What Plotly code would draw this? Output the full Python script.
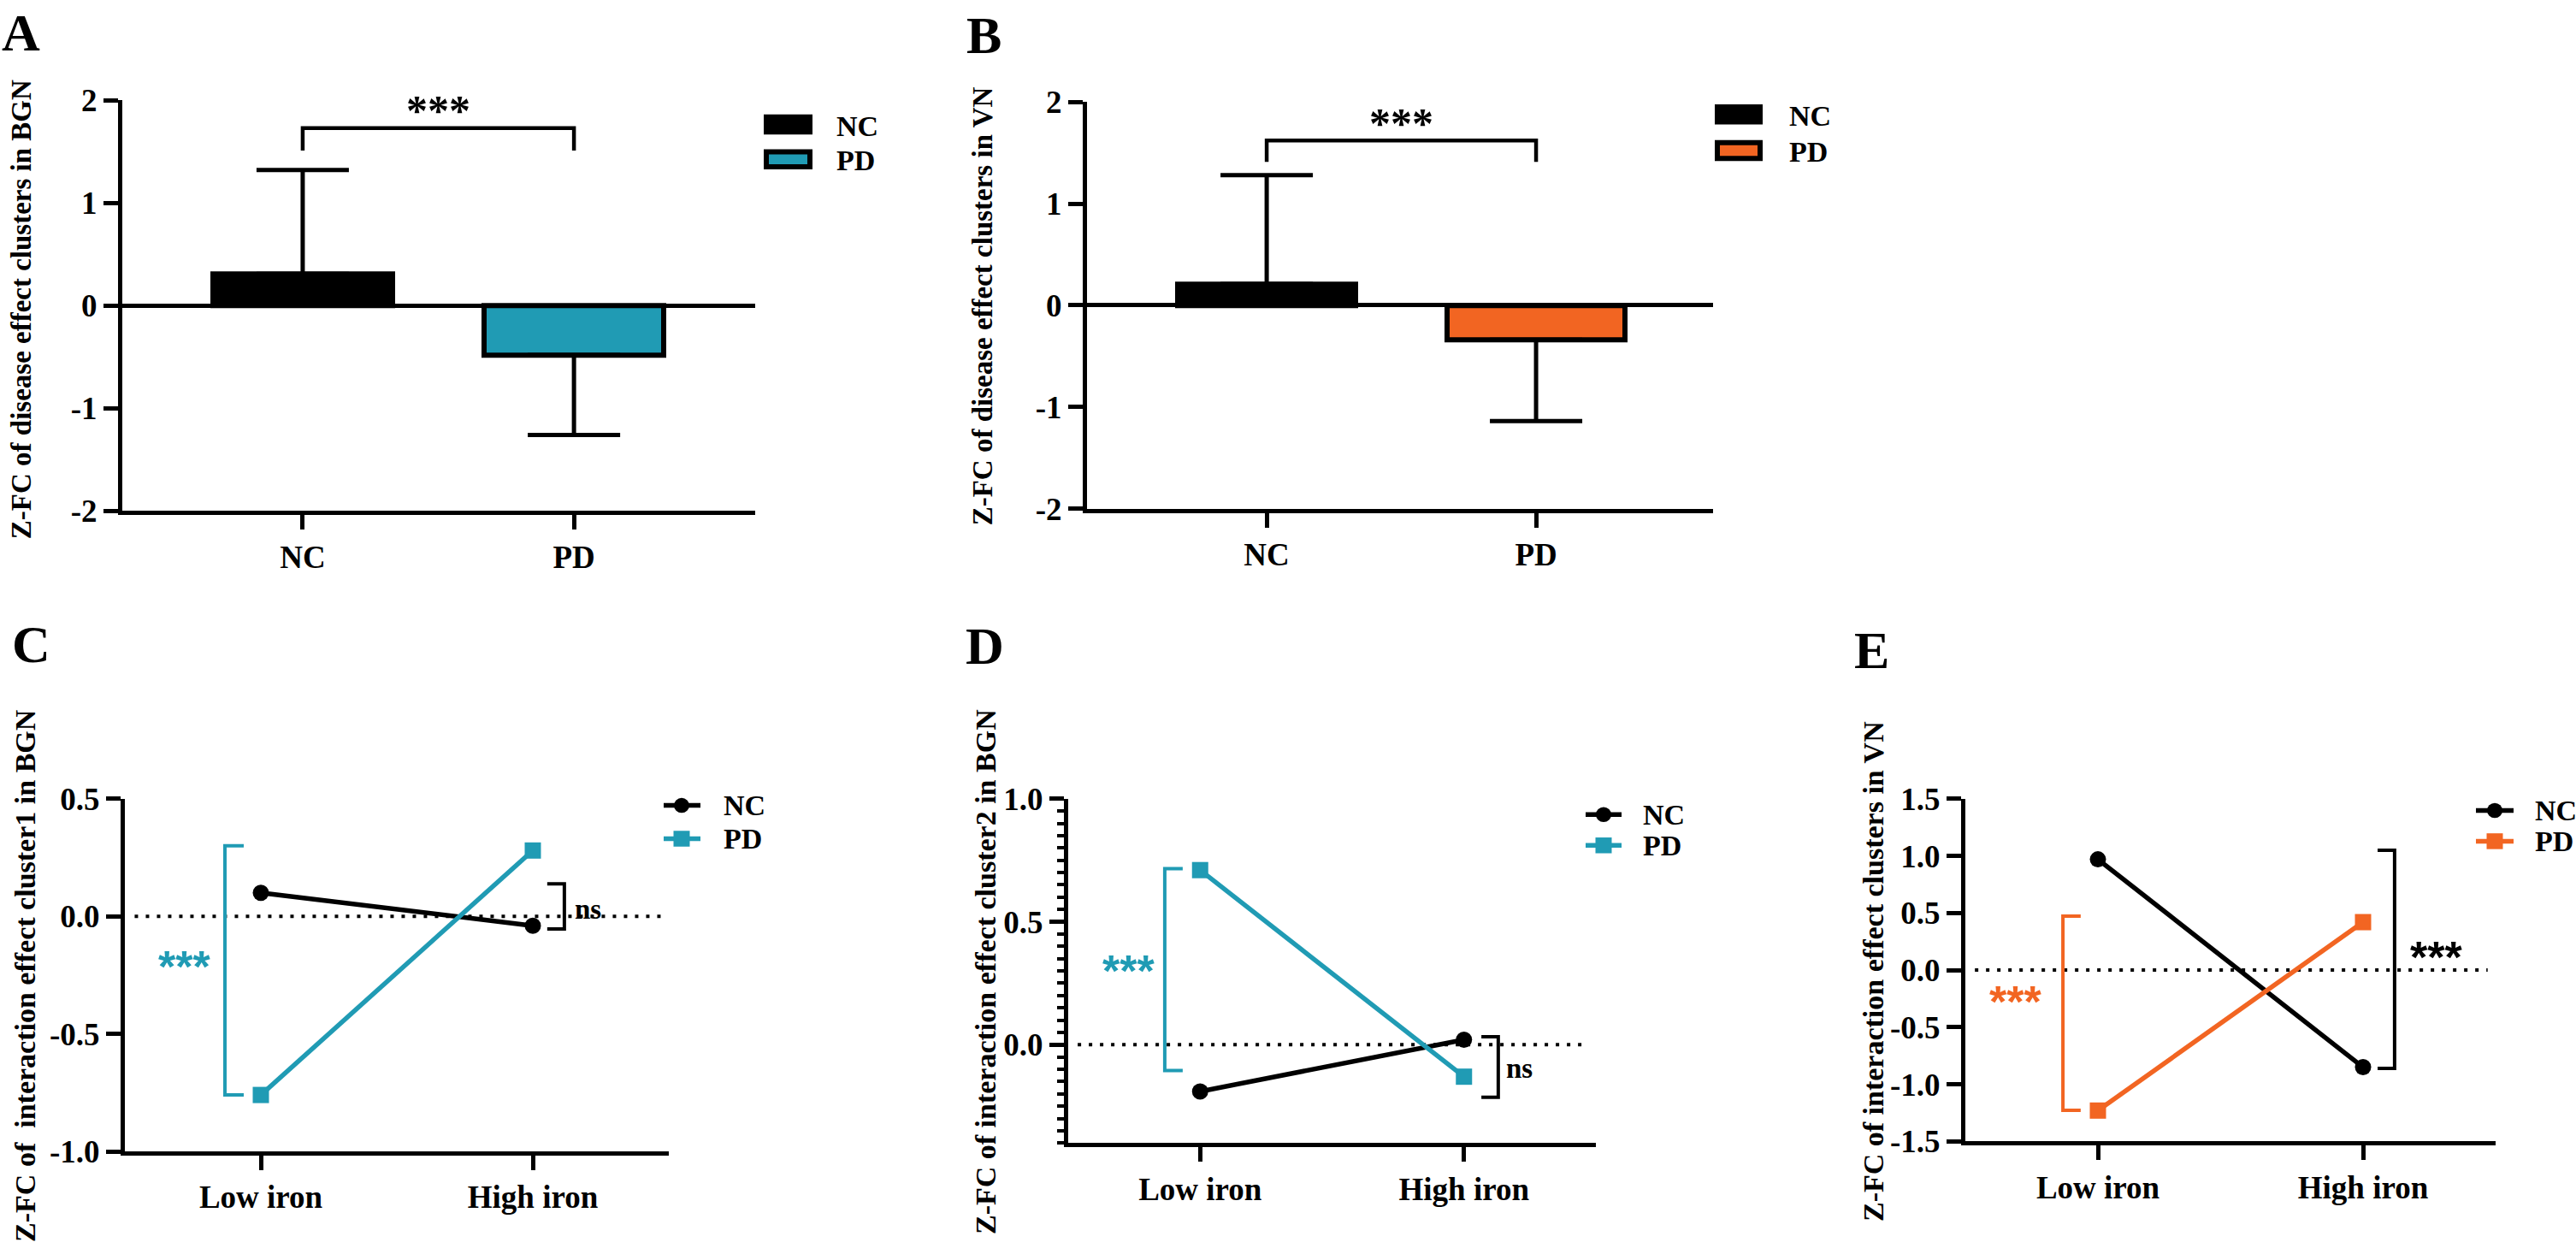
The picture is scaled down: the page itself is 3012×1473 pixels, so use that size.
import plotly.graph_objects as go

W, H = 3012, 1473
FONT = "Liberation Serif"
TEAL = "#209BB4"
ORANGE = "#F26522"
BLACK = "#000000"

# ---------------- data ----------------
groups = ["NC", "PD"]
a_mean = [0.31, -0.48]
a_err_up = [1.01, 0.0]
a_err_down = [0.0, 0.78]
b_mean = [0.21, -0.34]
b_err_up = [1.07, 0.0]
b_err_down = [0.0, 0.80]

iron = ["Low iron", "High iron"]
c_nc = [0.10, -0.04]
c_pd = [-0.76, 0.28]
d_nc = [-0.19, 0.02]
d_pd = [0.71, -0.13]
e_nc = [0.97, -0.85]
e_pd = [-1.23, 0.42]

bar_ticks = [-2, -1, 0, 1, 2]
bar_ticktext = ["-2", "-1", "0", "1", "2"]
c_ticks = [-1.0, -0.5, 0.0, 0.5]
c_ticktext = ["-1.0", "-0.5", "0.0", "0.5"]
d_ticks = [0.0, 0.5, 1.0]
d_ticktext = ["0.0", "0.5", "1.0"]
e_ticks = [-1.5, -1.0, -0.5, 0.0, 0.5, 1.0, 1.5]
e_ticktext = ["-1.5", "-1.0", "-0.5", "0.0", "0.5", "1.0", "1.5"]

# significance brackets: (leg bottom, top) for bar panels
sig_a = [1.51, 1.73]
sig_b = [1.41, 1.62]
# vertical brackets: [x_bar, x_arm, y_top, y_bottom]
c_br_pd = [-0.132, -0.063, 0.30, -0.76]
c_br_nc = [1.116, 1.053, 0.138, -0.054]
d_br_pd = [-0.134, -0.066, 0.716, -0.105]
d_br_nc = [1.130, 1.066, 0.032, -0.214]
e_br_pd = [-0.132, -0.065, 0.472, -1.227]
e_br_nc = [1.119, 1.055, 1.049, -0.86]


def fx(px):
    return px / W


def fy(py):
    return 1 - py / H


fig = go.Figure()

# ---------- bar panels ----------
for i, (mean, up, dn) in enumerate([(a_mean, a_err_up, a_err_down), (b_mean, b_err_up, b_err_down)]):
    ax = "" if i == 0 else "2"
    fig.add_trace(go.Bar(
        x=list(range(len(groups))), y=mean,
        width=0.66,
        marker=dict(color=[BLACK, TEAL if i == 0 else ORANGE], line=dict(color=BLACK, width=6)),
        error_y=dict(type="data", symmetric=False, array=up, arrayminus=dn,
                     color=BLACK, thickness=5, width=54),
        showlegend=False, xaxis="x" + ax, yaxis="y" + ax,
    ))

# ---------- line panels ----------
line_panels = [("3", c_nc, c_pd, TEAL),
               ("4", d_nc, d_pd, TEAL),
               ("5", e_nc, e_pd, ORANGE)]
for ax, nc, pd_, col in line_panels:
    fig.add_trace(go.Scatter(
        x=list(range(len(iron))), y=nc, mode="lines+markers", name="NC",
        line=dict(color=BLACK, width=5.5), marker=dict(symbol="circle", size=19, color=BLACK),
        xaxis="x" + ax, yaxis="y" + ax, showlegend=False, cliponaxis=False))
    fig.add_trace(go.Scatter(
        x=list(range(len(iron))), y=pd_, mode="lines+markers", name="PD",
        line=dict(color=col, width=5.5), marker=dict(symbol="square", size=19, color=col),
        xaxis="x" + ax, yaxis="y" + ax, showlegend=False, cliponaxis=False))

tickfont = dict(family=FONT, size=37, color=BLACK, weight="bold")


def xaxis(dom, rng, text):
    return dict(domain=[fx(dom[0]), fx(dom[1])], range=rng, tickmode="array",
                tickvals=list(range(len(text))), ticktext=text, showline=True,
                linewidth=5, linecolor=BLACK, ticks="outside", ticklen=17, tickwidth=5,
                tickcolor=BLACK, tickfont=tickfont, showgrid=False, zeroline=False,
                fixedrange=True)


def yaxis(dom, rng, tv, tt, anchor, zl=False, minor=None):
    d = dict(domain=[fy(dom[1]), fy(dom[0])], range=rng, tickmode="array",
             tickvals=tv, ticktext=tt, showline=True, linewidth=5, linecolor=BLACK,
             ticks="outside", ticklen=17, tickwidth=5, tickcolor=BLACK, tickfont=tickfont,
             showgrid=False, zeroline=zl, zerolinecolor=BLACK, zerolinewidth=5,
             anchor=anchor, fixedrange=True)
    if minor:
        d["minor"] = minor
    return d


layout = dict(
    width=W, height=H, margin=dict(l=0, r=0, t=0, b=0),
    paper_bgcolor="white", plot_bgcolor="white", showlegend=False,
    font=dict(family=FONT, color=BLACK, weight="bold"),
    xaxis=xaxis([143, 883], [-0.665, 1.668], groups),
    yaxis=yaxis([100, 594], [-2, 2], bar_ticks, bar_ticktext, "x", zl=True),
    xaxis2=xaxis([1271, 2003], [-0.667, 1.657], groups),
    yaxis2=yaxis([102, 591], [-2, 2], bar_ticks, bar_ticktext, "x2", zl=True),
    xaxis3=xaxis([146, 782], [-0.5, 1.5], iron),
    yaxis3=yaxis([940, 1364], [-1.0, 0.5], c_ticks, c_ticktext, "x3"),
    xaxis4=xaxis([1249, 1866], [-0.5, 1.5], iron),
    yaxis4=yaxis([940, 1354], [-0.4, 1.0], d_ticks, d_ticktext, "x4",
                 minor=dict(tickmode="linear", tick0=0, dtick=0.05, ticks="outside",
                            ticklen=8, tickwidth=4, tickcolor=BLACK)),
    xaxis5=xaxis([2298, 2918], [-0.5, 1.5], iron),
    yaxis5=yaxis([940, 1352], [-1.5, 1.5], e_ticks, e_ticktext, "x5"),
    bargap=0,
)
for k in ["xaxis", "xaxis2", "xaxis3", "xaxis4", "xaxis5"]:
    n = k.replace("xaxis", "")
    layout[k]["anchor"] = "y" + n
fig.update_layout(**layout)

shapes = []
# bracket A / B (horizontal)
for ax, sig in [("", sig_a), ("2", sig_b)]:
    shapes.append(dict(type="path", xref="x" + ax, yref="y" + ax,
                       path=f"M 0,{sig[0]} L 0,{sig[1]} L 1,{sig[1]} L 1,{sig[0]}",
                       line=dict(color=BLACK, width=4.5)))
# vertical brackets
for ax, br, col in [("3", c_br_pd, TEAL), ("3", c_br_nc, BLACK),
                    ("4", d_br_pd, TEAL), ("4", d_br_nc, BLACK),
                    ("5", e_br_pd, ORANGE), ("5", e_br_nc, BLACK)]:
    shapes.append(dict(type="path", xref="x" + ax, yref="y" + ax,
                       path=f"M {br[1]},{br[2]} L {br[0]},{br[2]} L {br[0]},{br[3]} L {br[1]},{br[3]}",
                       line=dict(color=col, width=4)))
# dotted zero lines
for ax in ["3", "4", "5"]:
    shapes.append(dict(type="line", xref=f"x{ax} domain", yref="y" + ax,
                       x0=0.018, x1=0.985, y0=0, y1=0,
                       line=dict(color=BLACK, width=4, dash="4px,9px"), layer="below"))
# manual legends for bar panels
for (x0, x1, ys), col in [((893, 950, (117, 141)), BLACK), ((893, 950, (159, 183)), TEAL),
                          ((2005, 2061, (105, 129)), BLACK), ((2005, 2061, (148, 173)), ORANGE)]:
    shapes.append(dict(type="rect", xref="paper", yref="paper",
                       x0=fx(x0 + 3), x1=fx(x1 - 3), y0=fy(ys[1] - 3), y1=fy(ys[0] + 3),
                       fillcolor=col, line=dict(color=BLACK, width=6)))

ann = []


def add(text, x, y, size, xref="paper", yref="paper", color=BLACK, angle=0,
        xanchor="center", yanchor="middle", family=FONT):
    ann.append(dict(text=text, x=x, y=y, xref=xref, yref=yref, showarrow=False,
                    textangle=angle, xanchor=xanchor, yanchor=yanchor,
                    font=dict(family=family, size=size, color=color, weight="bold")))


# manual legends for line panels: (line x0, line x1, marker x, y NC, y PD, text x, PD colour)
for lx0, lx1, mx, yn, yp, tx, col in [(776, 819, 797, 948, 988, 844, TEAL),
                                      (1854, 1896, 1875, 959, 996, 1919, TEAL),
                                      (2895, 2939, 2917, 954, 991, 2962, ORANGE)]:
    for yy, c, sym, lab in [(yn, BLACK, "circle", "NC"), (yp, col, "rect", "PD")]:
        shapes.append(dict(type="line", xref="paper", yref="paper", x0=fx(lx0), x1=fx(lx1),
                           y0=fy(yy), y1=fy(yy), line=dict(color=c, width=5.5)))
        r = 9 if sym == "circle" else 9.5
        shapes.append(dict(type=sym, xref="paper", yref="paper", x0=fx(mx - r), x1=fx(mx + r),
                           y0=fy(yy + r), y1=fy(yy - r), fillcolor=c, line=dict(color=c, width=0)))
        add(lab, fx(tx), fy(yy), 34, xanchor="left")
fig.update_layout(shapes=shapes)

# panel letters
for t, px, py in [("A", 0, 44), ("B", 1128, 47), ("C", 12, 779), ("D", 1127, 781), ("E", 2166, 786)]:
    add(t, fx(px), fy(py + 12), 62, xanchor="left", yanchor="bottom")

# y titles
add("Z-FC of disease effect clusters in BGN", fx(25), fy(352), 33, angle=-90)
add("Z-FC of disease effect clusters in VN", fx(1149), fy(348), 33, angle=-90)
add("Z-FC of&nbsp; interaction effect cluster1 in BGN", fx(30), fy(1153), 34, angle=-90)
add("Z-FC of interaction effect cluster2 in BGN", fx(1152), fy(1148), 34, angle=-90)
add("Z-FC of interaction effect clusters in VN", fx(2190), fy(1148), 34, angle=-90)

# legend text for bar panels
add("NC", fx(976), fy(131), 34, xanchor="left")
add("PD", fx(976), fy(172), 34, xanchor="left")
add("NC", fx(2090), fy(119), 34, xanchor="left")
add("PD", fx(2090), fy(162), 34, xanchor="left")

# stars / ns
add("***", 0.5, sig_a[1] + 0.17, 50, xref="x", yref="y")
add("***", 0.5, sig_b[1] + 0.17, 50, xref="x2", yref="y2")
SANS = "Liberation Sans"
add("***", -0.28, -0.213, 52, xref="x3", yref="y3", color=TEAL, family=SANS)
add("ns", 1.204, 0.03, 33, xref="x3", yref="y3")
add("***", -0.27, 0.30, 52, xref="x4", yref="y4", color=TEAL, family=SANS)
add("ns", 1.211, -0.097, 33, xref="x4", yref="y4")
add("***", -0.31, -0.273, 52, xref="x5", yref="y5", color=ORANGE, family=SANS)
add("***", 1.277, 0.112, 52, xref="x5", yref="y5", color=BLACK, family=SANS)
fig.update_layout(annotations=ann)

fig.write_html("out.html", config={"displayModeBar": False},
               post_script="document.body.style.margin='0';document.body.style.overflow='hidden';")
